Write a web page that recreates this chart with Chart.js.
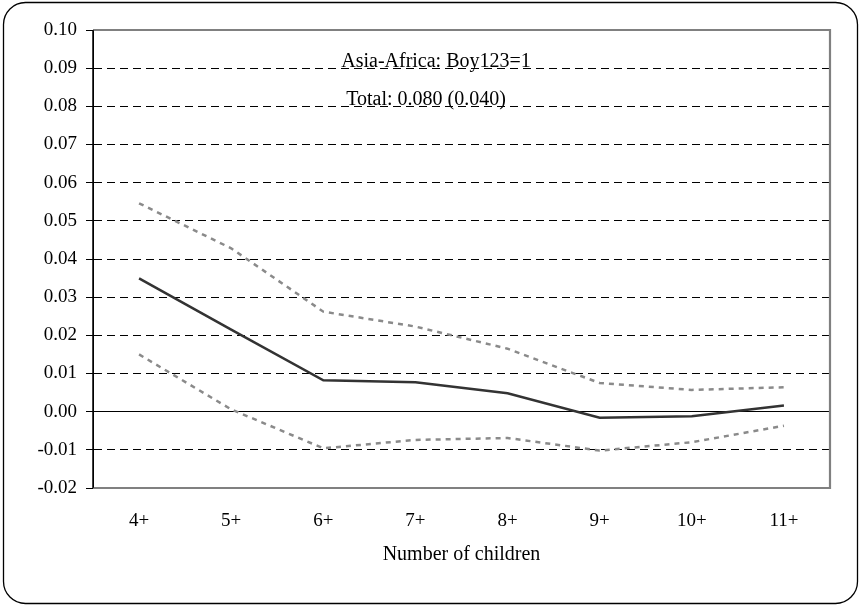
<!DOCTYPE html>
<html>
<head>
<meta charset="utf-8">
<script src="https://cdn.jsdelivr.net/npm/chart.js@4.4.0/dist/chart.umd.min.js"></script>
<style>
    body { margin: 0; background: #fff; }
    canvas { display: block; }
</style>
</head>
<body>
<canvas id="chart" width="861" height="606"></canvas>
<script>
// Data
const categories = ['4+', '5+', '6+', '7+', '8+', '9+', '10+', '11+'];
const estimate = [0.0349, 0.0215, 0.0082, 0.0077, 0.0048, -0.0016, -0.0012, 0.0016];
const upperBound = [0.0546, 0.0428, 0.0262, 0.0223, 0.0165, 0.0075, 0.0057, 0.0064];
const lowerBound = [0.0150, 0.0006, -0.0096, -0.0074, -0.0069, -0.0102, -0.0080, -0.0037];
const yTicks = { min: -0.02, max: 0.10, step: 0.01 };
const titleText = 'Asia-Africa: Boy123=1';
const subText = 'Total: 0.080 (0.040)';

const serif = '"Liberation Serif", "Times New Roman", serif';

// Frame, plot border and the two text lines
const decorations = {
    id: 'decorations',
    beforeDraw(chart) {
        const c = chart.ctx;
        c.save();
        c.fillStyle = '#fff';
        c.fillRect(0, 0, chart.width, chart.height);
        c.strokeStyle = '#000';
        c.lineWidth = 1.3;
        c.beginPath();
        c.roundRect(3.5, 2.5, 854, 601, 22);
        c.stroke();
        c.restore();
    },
    afterDatasetsDraw(chart) {
        const a = chart.chartArea;
        const c = chart.ctx;
        c.save();
        c.strokeStyle = '#808080';
        c.lineWidth = 2.2;
        c.beginPath();
        c.moveTo(a.left, a.top);
        c.lineTo(a.right, a.top);
        c.lineTo(a.right, a.bottom);
        c.lineTo(a.left, a.bottom);
        c.stroke();
        c.strokeStyle = '#000';
        c.lineWidth = 1.5;
        c.beginPath();
        c.moveTo(a.left, a.top);
        c.lineTo(a.left, a.bottom);
        c.stroke();

        c.fillStyle = '#000';
        c.textAlign = 'center';
        c.textBaseline = 'alphabetic';
        c.font = '20px ' + serif;
        c.fillText(titleText, 436, 67);
        c.font = '20px ' + serif;
        c.fillText(subText, 426, 105);
        c.restore();
    }
};

const isZero = v => Math.abs(v) < 1e-9;
const isEdge = v => Math.abs(v - yTicks.min) < 1e-9 || Math.abs(v - yTicks.max) < 1e-9;

new Chart(document.getElementById('chart'), {
    type: 'line',
    data: {
        labels: categories,
        datasets: [
            {
                label: 'Upper',
                data: upperBound,
                borderColor: '#8a8a8a',
                borderWidth: 2.5,
                borderDash: [5, 5],
                pointRadius: 0,
                tension: 0
            },
            {
                label: 'Estimate',
                data: estimate,
                borderColor: '#333333',
                borderWidth: 2.5,
                pointRadius: 0,
                tension: 0
            },
            {
                label: 'Lower',
                data: lowerBound,
                borderColor: '#8a8a8a',
                borderWidth: 2.5,
                borderDash: [5, 5],
                pointRadius: 0,
                tension: 0
            }
        ]
    },
    options: {
        responsive: false,
        animation: false,
        layout: { padding: { top: 30, right: 31, bottom: 0, left: 0 } },
        plugins: {
            legend: { display: false },
            tooltip: { enabled: false }
        },
        scales: {
            x: {
                offset: true,
                grid: { display: false, drawTicks: false },
                border: { display: false },
                ticks: {
                    color: '#000',
                    padding: 22,
                    font: { family: serif, size: 19 }
                },
                title: {
                    display: true,
                    text: 'Number of children',
                    color: '#000',
                    font: { family: serif, size: 20 },
                    padding: { top: 0, bottom: 39 }
                },
                afterFit(scale) { scale.height = 118; }
            },
            y: {
                min: yTicks.min,
                max: yTicks.max,
                ticks: {
                    stepSize: yTicks.step,
                    color: '#000',
                    padding: 9,
                    font: { family: serif, size: 19 },
                    callback: v => v.toFixed(2)
                },
                grid: {
                    color: ctx => isEdge(ctx.tick.value) ? 'rgba(0,0,0,0)' : '#000',
                    lineWidth: 1,
                    tickColor: '#000',
                    tickLength: 7,
                    drawTicks: true
                },
                border: {
                    display: true,
                    color: '#000',
                    width: 1,
                    dash: ctx => (ctx.tick && isZero(ctx.tick.value)) ? [] : [8, 5]
                },
                afterFit(scale) { scale.width = 93; }
            }
        }
    },
    plugins: [decorations]
});
</script>
</body>
</html>
